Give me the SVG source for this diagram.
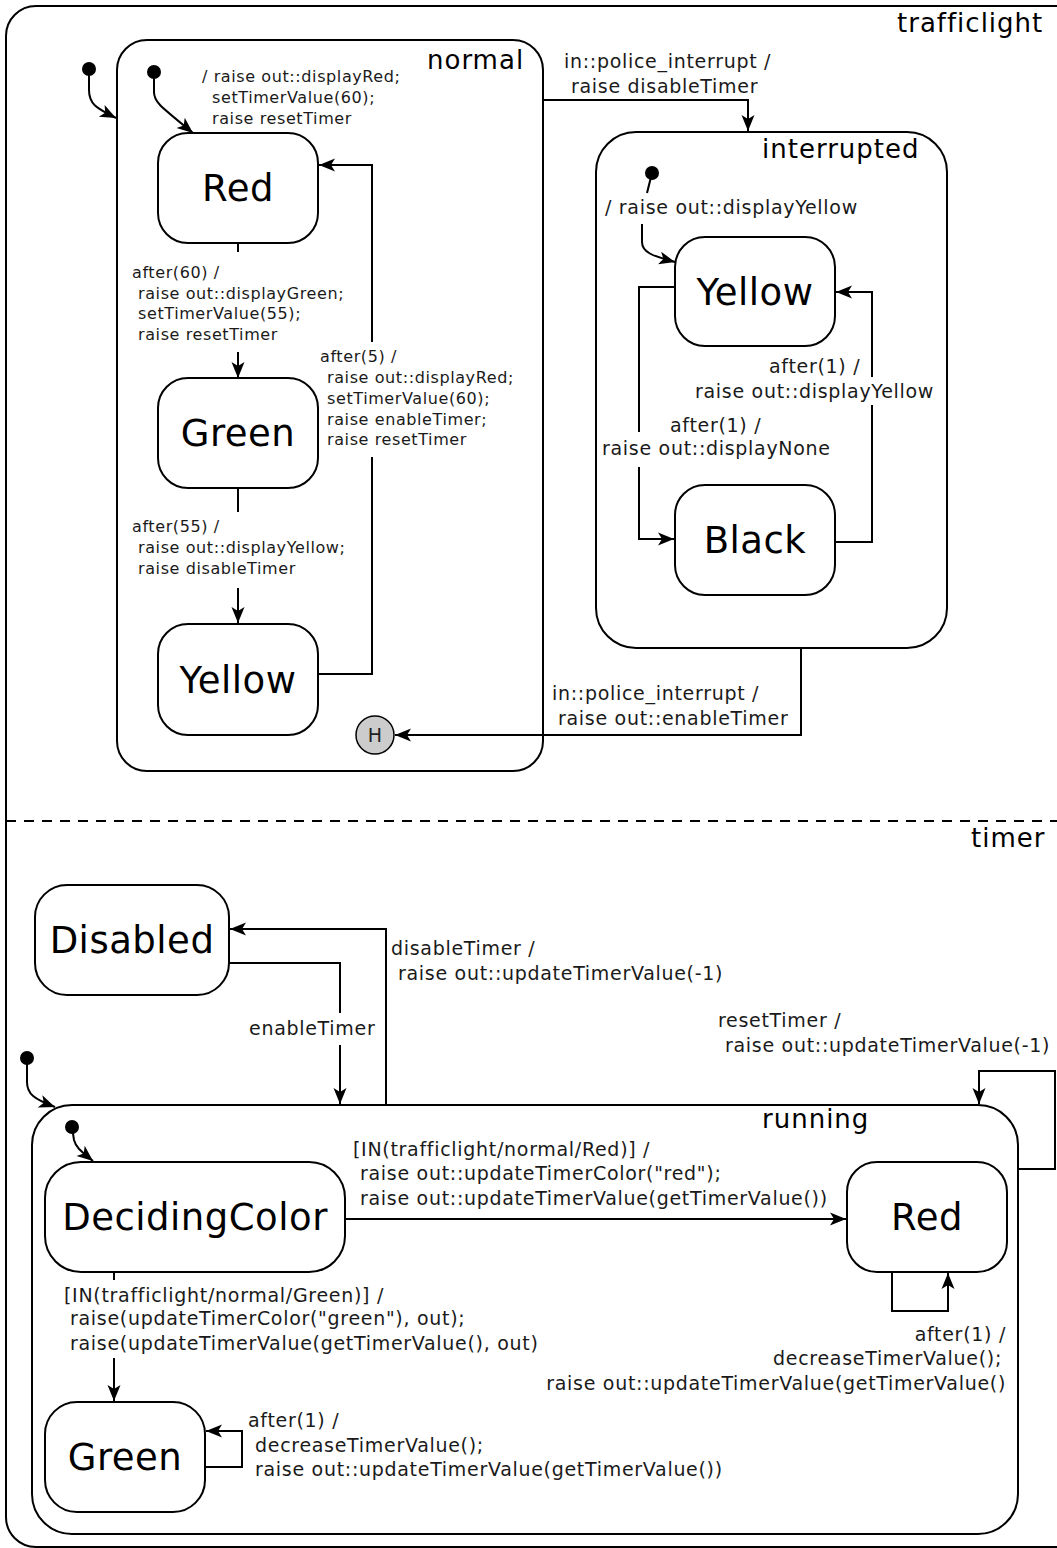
<svg xmlns="http://www.w3.org/2000/svg" width="1057" height="1548" viewBox="0 0 1057 1548">
<defs>
<style>
.box{fill:#fff;stroke:#000;stroke-width:2}
.reg{fill:none;stroke:#000;stroke-width:2}
.c{fill:none;stroke:#000;stroke-width:2}
.a{marker-end:url(#arr)}
.s{font-family:"DejaVu Sans",sans-serif;font-size:16px;letter-spacing:0.6px;fill:#1a1a1a}
.m{font-family:"DejaVu Sans",sans-serif;font-size:19px;letter-spacing:0.7px;fill:#1a1a1a}
.L{font-family:"DejaVu Sans",sans-serif;font-size:37px;letter-spacing:0.5px;fill:#000;text-anchor:middle}
.R{font-family:"DejaVu Sans",sans-serif;font-size:26px;letter-spacing:1px;fill:#000}
.e{text-anchor:end}
</style>
<marker id="arr" markerUnits="userSpaceOnUse" markerWidth="18" markerHeight="16" refX="16" refY="8" orient="auto">
<path d="M0,1.5 L16,8 L0,14.5 L4,8 Z" fill="#000"/>
</marker>
</defs>
<rect x="0" y="0" width="1057" height="1548" fill="#fff"/>

<g id="trafficlight">
<rect class="reg" x="6" y="6" width="1100" height="1541" rx="30"/>
<text class="R" x="897" y="32">trafficlight</text>
</g>
<g id="region-separator">
<path d="M6,821 H1057" stroke="#000" stroke-width="2" stroke-dasharray="10,8" fill="none"/>
<text class="R" x="971" y="847">timer</text>
</g>

<g id="normal">
<rect class="reg" x="117" y="40" width="426" height="731" rx="30"/>
<text class="R" x="427" y="69">normal</text>
</g>
<g id="init-top"><circle cx="89" cy="69" r="7"/></g>
<g id="init-normal"><circle cx="154" cy="72" r="7"/></g>
<g id="normal-Red">
<rect class="box" x="158" y="133" width="160" height="110" rx="30"/>
<text class="L" x="238" y="201">Red</text>
</g>
<g id="normal-Green">
<rect class="box" x="158" y="378" width="160" height="110" rx="30"/>
<text class="L" x="238" y="446">Green</text>
</g>
<g id="normal-Yellow">
<rect class="box" x="158" y="624" width="160" height="111" rx="30"/>
<text class="L" x="238" y="693">Yellow</text>
</g>
<g id="history">
<circle cx="375" cy="735" r="19" fill="#ccc" stroke="#000" stroke-width="1.5"/>
<text x="375" y="742" font-family="DejaVu Sans,sans-serif" font-size="19" text-anchor="middle" fill="#222">H</text>
</g>

<g id="interrupted">
<rect class="reg" x="596" y="132" width="351" height="516" rx="40"/>
<text class="R" x="762" y="158">interrupted</text>
</g>
<g id="init-interrupted"><circle cx="652" cy="173" r="7"/></g>
<g id="interrupted-Yellow">
<rect class="box" x="675" y="237" width="160" height="109" rx="30"/>
<text class="L" x="755" y="305">Yellow</text>
</g>
<g id="interrupted-Black">
<rect class="box" x="675" y="485" width="160" height="110" rx="30"/>
<text class="L" x="755" y="553">Black</text>
</g>

<g id="Disabled">
<rect class="box" x="35" y="885" width="194" height="110" rx="32"/>
<text class="L" x="132" y="953">Disabled</text>
</g>
<g id="init-timer"><circle cx="27" cy="1058" r="7"/></g>
<g id="running">
<rect class="reg" x="32" y="1105" width="986" height="429" rx="40"/>
<text class="R" x="762" y="1128">running</text>
</g>
<g id="init-running"><circle cx="72" cy="1127" r="7"/></g>
<g id="DecidingColor">
<rect class="box" x="45" y="1162" width="300" height="110" rx="36"/>
<text class="L" x="195" y="1230">DecidingColor</text>
</g>
<g id="running-Red">
<rect class="box" x="847" y="1162" width="160" height="110" rx="30"/>
<text class="L" x="927" y="1230">Red</text>
</g>
<g id="running-Green">
<rect class="box" x="45" y="1402" width="160" height="110" rx="32"/>
<text class="L" x="125" y="1470">Green</text>
</g>

<g id="connectors">
<path class="c a" d="M89,70 L89,90 C89,104 96,108 116,118"/>
<path class="c a" d="M154,72 L154,92 C154,102 160,106 193,133"/>
<text class="s" x="202" y="82">/ raise out::displayRed;</text>
<text class="s" x="212" y="103">setTimerValue(60);</text>
<text class="s" x="212" y="124">raise resetTimer</text>

<path class="c" d="M238,243 V252"/>
<path class="c a" d="M238,352 V378"/>
<text class="s" x="132" y="278">after(60) /</text>
<text class="s" x="138" y="299">raise out::displayGreen;</text>
<text class="s" x="138" y="319">setTimerValue(55);</text>
<text class="s" x="138" y="340">raise resetTimer</text>

<path class="c" d="M238,488 V512"/>
<path class="c a" d="M238,588 V623"/>
<text class="s" x="132" y="532">after(55) /</text>
<text class="s" x="138" y="553">raise out::displayYellow;</text>
<text class="s" x="138" y="574">raise disableTimer</text>

<path class="c" d="M318,674 H372 V457"/>
<path class="c a" d="M372,342 V165 H319"/>
<text class="s" x="320" y="362">after(5) /</text>
<text class="s" x="327" y="383">raise out::displayRed;</text>
<text class="s" x="327" y="404">setTimerValue(60);</text>
<text class="s" x="327" y="425">raise enableTimer;</text>
<text class="s" x="327" y="445">raise resetTimer</text>

<path class="c a" d="M543,100 H748 V131"/>
<text class="m" x="564" y="68">in::police_interrupt /</text>
<text class="m" x="571" y="93">raise disableTimer</text>

<path class="c a" d="M801,648 V735 H395"/>
<text class="m" x="552" y="700">in::police_interrupt /</text>
<text class="m" x="558" y="725">raise out::enableTimer</text>

<path class="c" d="M652,173 L647,193"/>
<path class="c a" d="M642,224 L642,242 C642,252 652,256 675,262"/>
<text class="m" x="605" y="214">/ raise out::displayYellow</text>

<path class="c" d="M675,287 H639 V432"/>
<path class="c a" d="M639,467 V539 H674"/>
<text class="m" x="670" y="432">after(1) /</text>
<text class="m" x="602" y="455">raise out::displayNone</text>

<path class="c" d="M835,542 H872 V405"/>
<path class="c a" d="M872,377 V292 H836"/>
<text class="m" x="769" y="373">after(1) /</text>
<text class="m" x="695" y="398">raise out::displayYellow</text>

<path class="c" d="M229,963 H340 V1013"/>
<path class="c a" d="M340,1045 V1104"/>
<text class="m" x="249" y="1035">enableTimer</text>

<path class="c a" d="M386,1105 V929 H230"/>
<text class="m" x="391" y="955">disableTimer /</text>
<text class="m" x="398" y="980">raise out::updateTimerValue(-1)</text>

<path class="c a" d="M1018,1169 H1055 V1071 H979 V1104"/>
<text class="m" x="718" y="1027">resetTimer /</text>
<text class="m" x="725" y="1052">raise out::updateTimerValue(-1)</text>

<path class="c a" d="M27,1060 L27,1082 C27,1094 34,1099 55,1107"/>
<path class="c a" d="M72,1127 L74,1140 C76,1148 82,1152 93,1161"/>

<path class="c a" d="M345,1219 H846"/>
<text class="m" x="353" y="1156">[IN(trafficlight/normal/Red)] /</text>
<text class="m" x="360" y="1180">raise out::updateTimerColor("red");</text>
<text class="m" x="360" y="1205">raise out::updateTimerValue(getTimerValue())</text>

<path class="c a" d="M892,1272 V1311 H948 V1273"/>
<text class="m e" x="1006" y="1341">after(1) /</text>
<text class="m e" x="1002" y="1365">decreaseTimerValue();</text>
<text class="m e" x="1006" y="1390">raise out::updateTimerValue(getTimerValue()</text>

<path class="c" d="M114,1272 V1280"/>
<path class="c a" d="M114,1358 V1401"/>
<text class="m" x="64" y="1302">[IN(trafficlight/normal/Green)] /</text>
<text class="m" x="70" y="1325">raise(updateTimerColor("green"), out);</text>
<text class="m" x="70" y="1350">raise(updateTimerValue(getTimerValue(), out)</text>

<path class="c a" d="M205,1467 H242 V1431 H206"/>
<text class="m" x="248" y="1427">after(1) /</text>
<text class="m" x="255" y="1452">decreaseTimerValue();</text>
<text class="m" x="255" y="1476">raise out::updateTimerValue(getTimerValue())</text>
</g>
</svg>
